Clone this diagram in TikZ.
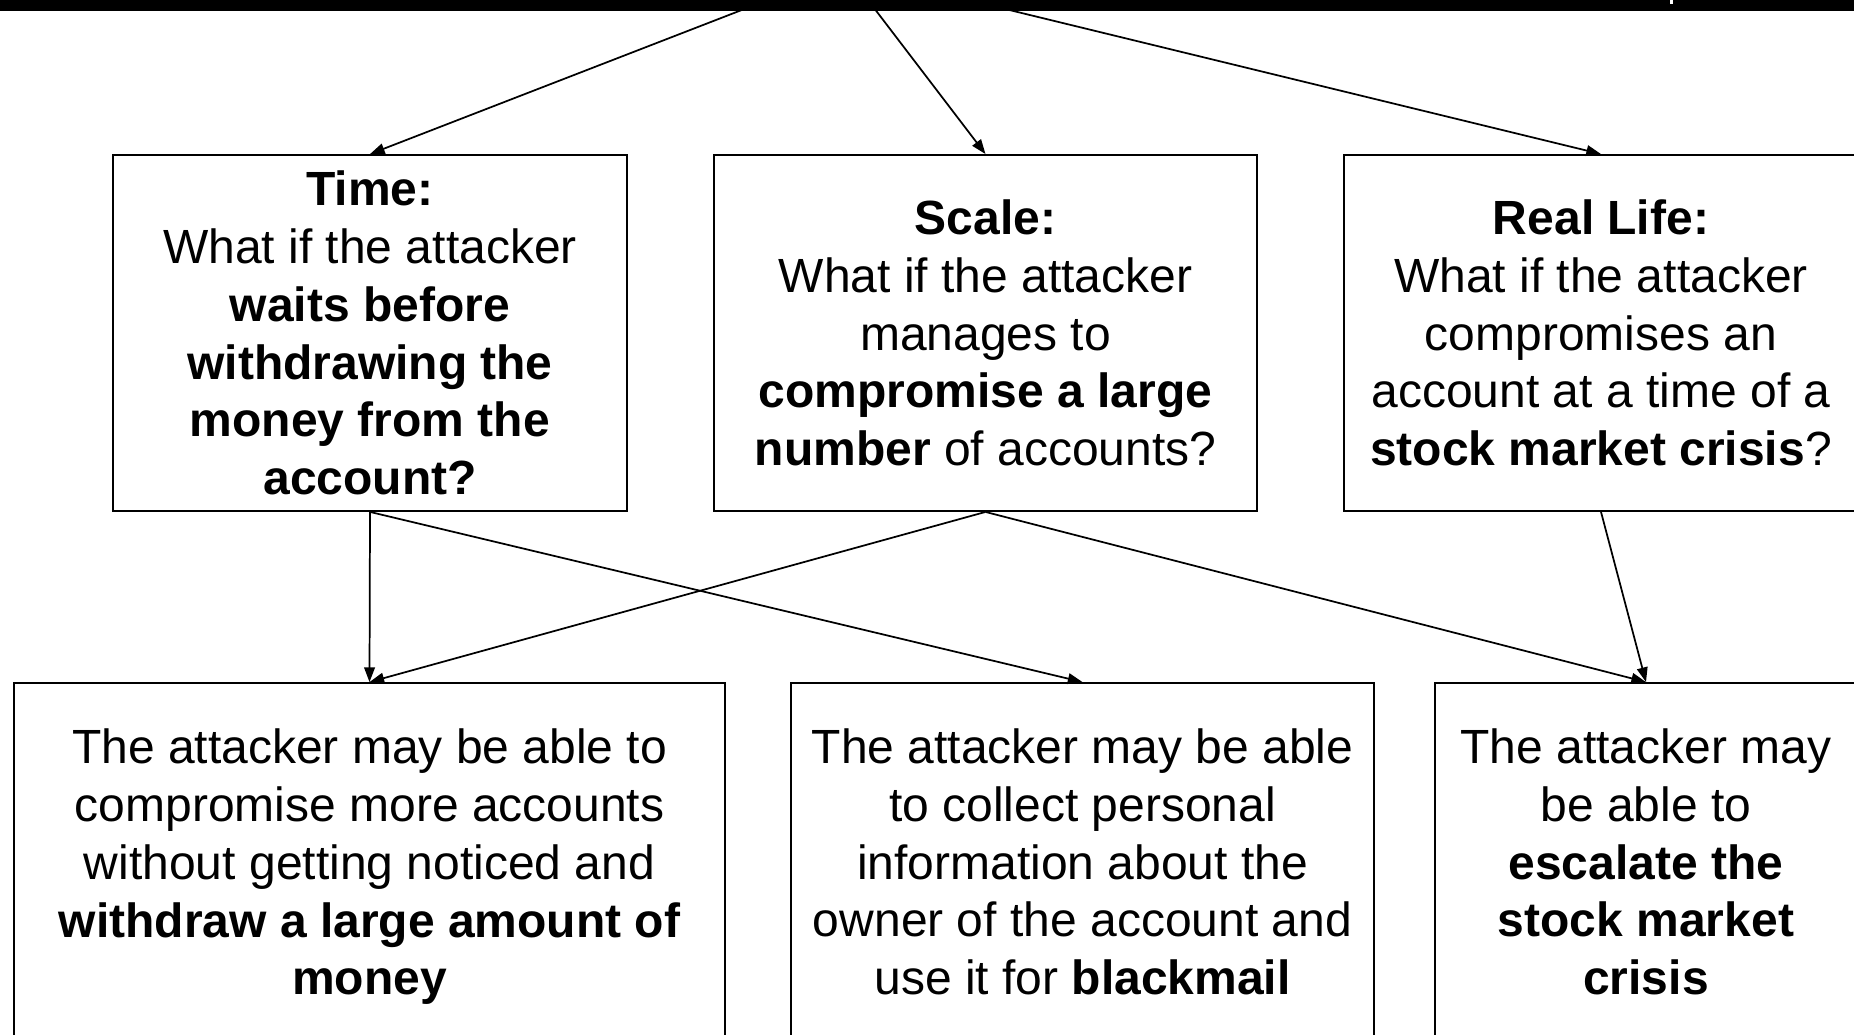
\documentclass[tikz,border=0pt]{standalone}
\usepackage{fontspec}
\setmainfont{Liberation Sans}
\usetikzlibrary{arrows.meta}
\begin{document}
\begin{tikzpicture}[x=0.75pt,y=-0.75pt,
  box/.style={draw=black,line width=1.4pt,fill=white,inner sep=0pt,align=center,
    font=\fontsize{36pt}{43.3pt}\selectfont,minimum height=267pt},
  link/.style={line width=1.3pt,-{Triangle[length=11pt,width=8pt]}}]
\useasboundingbox (0,0) rectangle (1854,1035);
\clip (0,0) rectangle (1854,1035);
\coordinate (src) at (845,-30);
% upper row
\node[box,minimum width=385.5pt] (time) at (370,333)
  {\textbf{Time:}\\What if the attacker\\\textbf{waits before}\\\textbf{withdrawing the}\\\textbf{money from the}\\\textbf{account?}};
\node[box,minimum width=407.25pt] (scale) at (985.5,333)
  {\textbf{Scale:}\\What if the attacker\\manages to\\\textbf{compromise a large}\\\textbf{number} of accounts?};
\node[box,minimum width=385.5pt] (real) at (1601,333)
  {\textbf{Real Life:}\\What if the attacker\\compromises an\\account at a time of a\\\textbf{stock market crisis}?};
% lower row
\node[box,minimum width=533.25pt,minimum height=276pt] (bl) at (369.5,867)
  {The attacker may be able to\\compromise more accounts\\without getting noticed and\\\textbf{withdraw a large amount of}\\\textbf{money}};
\node[box,minimum width=437.25pt,minimum height=268.5pt] (bm) at (1082.5,862)
  {The attacker may be able\\to collect personal\\information about the\\owner of the account and\\use it for \textbf{blackmail}};
\node[box,minimum width=316.5pt,minimum height=268.5pt] (br) at (1646,862)
  {The attacker may\\be able to\\\textbf{escalate the}\\\textbf{stock market}\\\textbf{crisis}};
% connectors
\draw[link] (src) -- (time.north);
\draw[link] (src) -- (scale.north);
\draw[link] (src) -- (real.north);
\draw[link] (time.south) -- (bl.north);
\draw[link] (time.south) -- (bm.north);
\draw[link] (scale.south) -- (bl.north);
\draw[link] (scale.south) -- (br.north);
\draw[link] (real.south) -- (br.north);
% top bar
\fill[black] (0,-60) rectangle (1854,11);
\fill[white] (1670,0) rectangle (1673,4);
\end{tikzpicture}
\end{document}
